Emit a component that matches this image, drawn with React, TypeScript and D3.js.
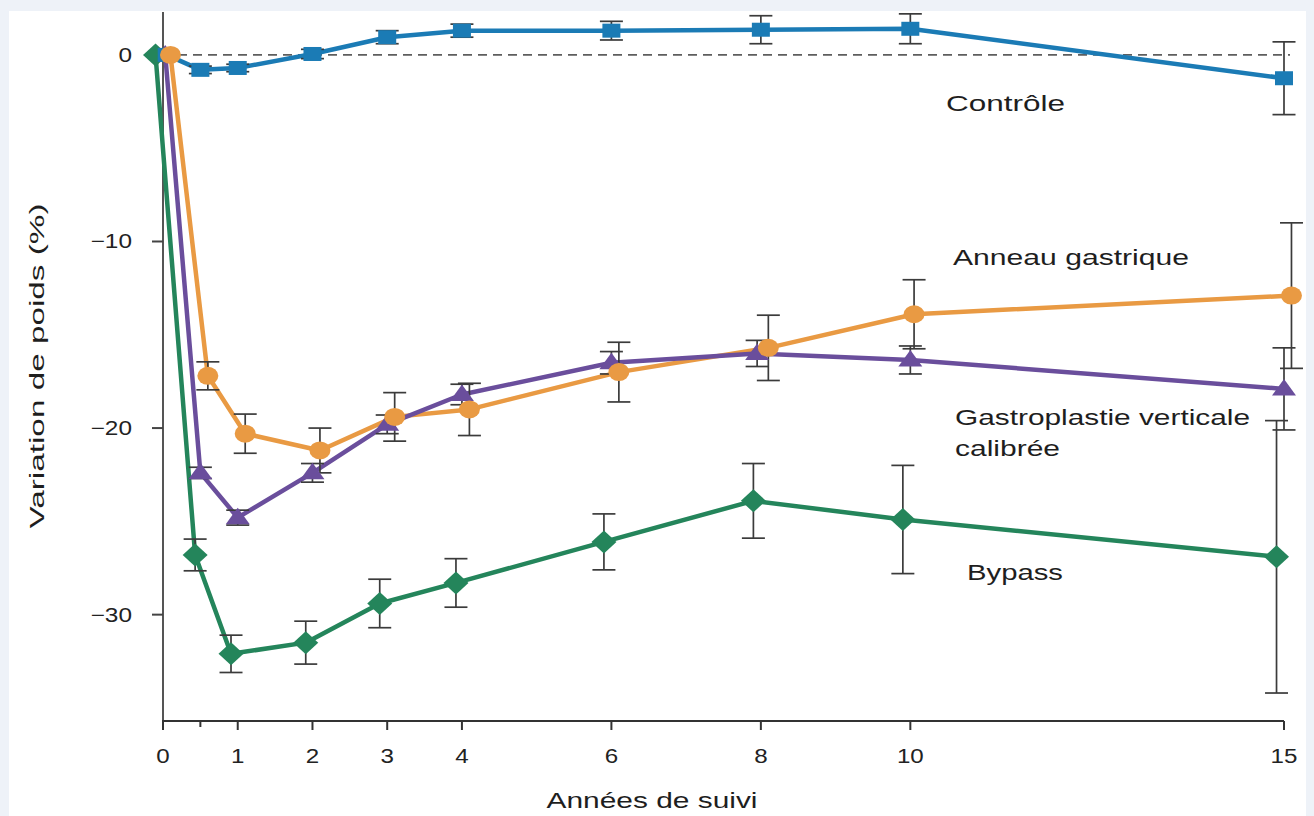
import React from 'react';
import * as d3 from 'd3';

// ---- data ----
const controleX = [0.05, 0.5, 1, 2, 3, 4, 6, 8, 10, 15];
const controleY = [0, -0.8, -0.7, 0.05, 0.95, 1.3, 1.3, 1.35, 1.4, -1.25];
const controleErr = [0, 0.2, 0.2, 0.25, 0.35, 0.35, 0.5, 0.75, 0.8, 1.95];

const anneauX = [0.1, 0.6, 1.1, 2.1, 3.1, 4.1, 6.1, 8.1, 10.05, 15.1];
const anneauY = [0, -17.2, -20.3, -21.2, -19.4, -19.0, -17.0, -15.7, -13.9, -12.9];
const anneauErr = [0, 0.75, 1.05, 1.2, 1.3, 1.4, 1.6, 1.75, 1.85, 3.9];

const gastroX = [0.03, 0.5, 1, 2, 3, 4, 6, 7.95, 10, 15];
const gastroY = [0, -22.4, -24.8, -22.4, -19.8, -18.2, -16.5, -16.0, -16.35, -17.9];
const gastroErr = [0, 0.3, 0.4, 0.5, 0.5, 0.55, 0.6, 0.7, 0.75, 2.2];

const bypassX = [-0.1, 0.43, 0.91, 1.91, 2.9, 3.92, 5.9, 7.9, 9.9, 14.9];
const bypassY = [0, -26.8, -32.1, -31.5, -29.4, -28.3, -26.1, -23.9, -24.9, -26.9];
const bypassErr = [0, 0.85, 1.0, 1.15, 1.3, 1.3, 1.5, 2.0, 2.9, 7.3];

const xTicks = [0, 1, 2, 3, 4, 6, 8, 10, 15];
const xMinorTicks = [0.5];
const yTicks = [0, -10, -20, -30];

const seriesNames = ['Contrôle', 'Anneau gastrique', 'Gastroplastie verticale calibrée', 'Bypass'];

// ---- layout ----
const W = 1314;
const H = 816;
const x = d3.scaleLinear().domain([0, 15]).range([163, 1284]);
const y = d3.scaleLinear().domain([-35.7, 2.3]).range([721, 12]);

const FONT = '"Liberation Sans", Arial, sans-serif';
const ERR = '#3b3b3b';

type Pt = { x: number; y: number; e: number };
const zip = (xs: number[], ys: number[], es: number[]): Pt[] =>
  xs.map((v, i) => ({ x: v, y: ys[i], e: es[i] }));

const series = [
  { name: seriesNames[3], pts: zip(bypassX, bypassY, bypassErr), color: '#24855b', marker: 'diamond' },
  { name: seriesNames[1], pts: zip(anneauX, anneauY, anneauErr), color: '#e99a43', marker: 'circle' },
  { name: seriesNames[2], pts: zip(gastroX, gastroY, gastroErr), color: '#6a4e9c', marker: 'triangle' },
  { name: seriesNames[0], pts: zip(controleX, controleY, controleErr), color: '#1b7bb5', marker: 'square' },
];

const markerOrder = ['triangle', 'diamond', 'square', 'circle'];

function Marker({ kind, cx, cy, color }: { kind: string; cx: number; cy: number; color: string }) {
  if (kind === 'circle') return <ellipse cx={cx} cy={cy} rx={10.5} ry={9} fill={color} />;
  if (kind === 'square') return <rect x={cx - 9} y={cy - 7} width={18} height={14} fill={color} />;
  if (kind === 'triangle')
    return <path d={`M${cx},${cy - 10}L${cx + 12},${cy + 6.5}L${cx - 12},${cy + 6.5}Z`} fill={color} />;
  return <path d={`M${cx},${cy - 11.5}L${cx + 12.5},${cy}L${cx},${cy + 11.5}L${cx - 12.5},${cy}Z`} fill={color} />;
}

function SText({ x0, y0, sx, anchor, size, children }: any) {
  return (
    <text
      transform={`translate(${x0},${y0}) scale(${sx},1)`}
      textAnchor={anchor}
      fontFamily={FONT}
      fontSize={size}
      fill="#222"
    >
      {children}
    </text>
  );
}

export default function App() {
  const line = d3
    .line<Pt>()
    .x((d) => x(d.x))
    .y((d) => y(d.y));

  const labelStyle = { fontFamily: FONT, fontSize: 22, fill: '#1e1e1e' } as const;

  return (
    <div style={{ position: 'fixed', left: 0, top: 0 }}>
      <svg width={W} height={H} style={{ display: 'block' }}>
        <rect x={0} y={0} width={W} height={H} fill="#eef2f8" />
        <rect x={9} y={11} width={1297} height={H - 11} fill="#ffffff" />

        {/* zero reference line */}
        <line x1={x(0)} x2={x(15) + 6} y1={y(0)} y2={y(0)} stroke="#5e5e5e" strokeWidth={1.7} strokeDasharray="9,6" />

        {/* axes */}
        <line x1={x(0)} x2={x(0)} y1={12} y2={y(-35.7)} stroke="#555" strokeWidth={2} />
        <line x1={x(0) - 1} x2={x(15)} y1={y(-35.7)} y2={y(-35.7)} stroke="#333" strokeWidth={2} />
        {yTicks.map((t) => (
          <g key={'yt' + t}>
            <line x1={x(0) - 11} x2={x(0)} y1={y(t)} y2={y(t)} stroke="#444" strokeWidth={2} />
            <SText x0={132} y0={y(t) + 7} sx={1.22} anchor="end" size={20}>
              {t === 0 ? '0' : '\u2212' + Math.abs(t)}
            </SText>
          </g>
        ))}
        {xTicks.map((t) => (
          <g key={'xt' + t}>
            <line x1={x(t)} x2={x(t)} y1={y(-35.7)} y2={y(-35.7) + 9} stroke="#333" strokeWidth={2} />
            <SText x0={x(t)} y0={763} sx={1.15} anchor="middle" size={21}>
              {String(t)}
            </SText>
          </g>
        ))}
        {xMinorTicks.map((t) => (
          <line key={'xm' + t} x1={x(t)} x2={x(t)} y1={y(-35.7)} y2={y(-35.7) + 6} stroke="#333" strokeWidth={2} />
        ))}

        {/* axis titles */}
        <text x={652} y={808} textAnchor="middle" textLength={211} lengthAdjust="spacingAndGlyphs" {...labelStyle}>
          Années de suivi
        </text>
        <text
          transform="translate(44,366) rotate(-90)"
          textAnchor="middle"
          textLength={325}
          lengthAdjust="spacingAndGlyphs"
          {...labelStyle}
          fontSize={21}
        >
          Variation de poids (%)
        </text>

        {/* lines */}
        {series.map((s) => (
          <path key={'l' + s.name} d={line(s.pts) || ''} fill="none" stroke={s.color} strokeWidth={4.5} strokeLinejoin="round" />
        ))}

        {/* error bars */}
        {series.map((s) =>
          s.pts
            .filter((p) => p.e > 0)
            .map((p, i) => {
              const cx = x(p.x);
              const y1 = y(p.y + p.e);
              const y2 = y(p.y - p.e);
              return (
                <g key={'e' + s.name + i} stroke={ERR} strokeWidth={1.7}>
                  <line x1={cx} x2={cx} y1={y1} y2={y2} />
                  <line x1={cx - 11.5} x2={cx + 11.5} y1={y1} y2={y1} />
                  <line x1={cx - 11.5} x2={cx + 11.5} y1={y2} y2={y2} />
                </g>
              );
            })
        )}

        {/* markers */}
        {markerOrder.map((k) => {
          const s = series.find((q) => q.marker === k)!;
          return s.pts.map((p, i) => (
            <Marker key={'m' + k + i} kind={k} cx={x(p.x)} cy={y(p.y)} color={s.color} />
          ));
        })}

        {/* series labels */}
        <text x={946} y={111} textLength={119} lengthAdjust="spacingAndGlyphs" {...labelStyle}>
          {seriesNames[0]}
        </text>
        <text x={953} y={265} textLength={236} lengthAdjust="spacingAndGlyphs" {...labelStyle}>
          {seriesNames[1]}
        </text>
        <text x={955} y={425} textLength={295} lengthAdjust="spacingAndGlyphs" {...labelStyle}>
          Gastroplastie verticale
        </text>
        <text x={955} y={456} textLength={105} lengthAdjust="spacingAndGlyphs" {...labelStyle}>
          calibrée
        </text>
        <text x={967} y={580} textLength={96} lengthAdjust="spacingAndGlyphs" {...labelStyle}>
          {seriesNames[3]}
        </text>
      </svg>
    </div>
  );
}
